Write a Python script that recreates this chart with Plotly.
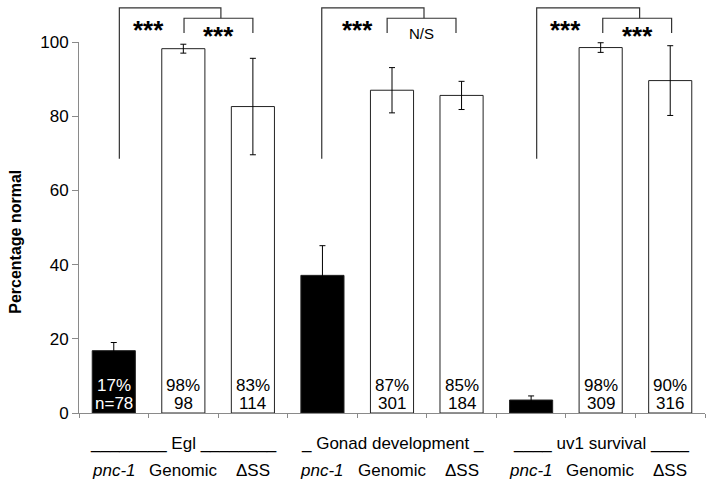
import plotly.graph_objects as go

# Data
strains = ["pnc-1", "Genomic", "ΔSS"] * 3
groups = ["________ Egl ________", "_ Gonad development _", "____ uv1 survival ____"]
values = [16.8, 98.2, 82.6, 37.1, 87.0, 85.6, 3.5, 98.5, 89.6]
errors = [2.2, 1.2, 13.0, 8.0, 6.1, 3.8, 1.1, 1.3, 9.4]
pct_labels = ["17%", "98%", "83%", "", "87%", "85%", "4%", "98%", "90%"]
n_labels = ["n=78", "98", "114", "", "301", "184", "217", "309", "316"]
bar_colors = ["black", "white", "white"] * 3
text_colors = ["white", "black", "black"] * 3

# significance brackets, in category units / y units
big_brackets = [(0.08, 1.54), (2.99, 4.46), (6.08, 7.56)]
small_brackets = [(1.01, 2.0), (3.93, 4.92), (7.03, 8.02)]
big_labels = ["***", "***", "***"]
small_labels = ["***", "N/S", "***"]
big_top, big_bottom = 109.2, 68.5
small_top, small_bottom = 106.4, 102.4

n = len(values)
xs = list(range(n))
font = "Arial, Liberation Sans, sans-serif"
axis_grey = "#8a8a8a"

fig = go.Figure()
fig.add_trace(go.Bar(
    x=xs, y=values, width=0.62,
    marker=dict(color=bar_colors, line=dict(color="#222222", width=1)),
    error_y=dict(type="data", array=errors, visible=True,
                 color="black", thickness=1, width=3),
    showlegend=False, hoverinfo="skip"
))

def px(c):
    # category position -> paper x
    return (c + 0.5) / n

shapes = []
for (a, b), (c, d) in zip(big_brackets, small_brackets):
    shapes.append(dict(type="path", xref="paper", yref="paper",
                       path=f"M {px(a)} {big_bottom/100} L {px(a)} {big_top/100} "
                            f"L {px(b)} {big_top/100} L {px(b)} {small_top/100}",
                       line=dict(color="#333333", width=1.2)))
    shapes.append(dict(type="path", xref="paper", yref="paper",
                       path=f"M {px(c)} {small_bottom/100} L {px(c)} {small_top/100} "
                            f"L {px(d)} {small_top/100} L {px(d)} {small_bottom/100}",
                       line=dict(color="#333333", width=1.2)))

annotations = []
for i, (c, d) in enumerate(small_brackets):
    annotations.append(dict(x=px(3 * i + 0.5), y=1.032, xref="paper", yref="paper",
                            xanchor="center", yanchor="middle",
                            text="<b>" + big_labels[i] + "</b>", showarrow=False,
                            font=dict(family=font, size=26, color="black")))
    sl = small_labels[i]
    if sl == "N/S":
        annotations.append(dict(x=px((c + d) / 2), y=1.024, xref="paper", yref="paper",
                                xanchor="center", yanchor="middle",
                                text=sl, showarrow=False,
                                font=dict(family=font, size=15, color="black")))
    else:
        annotations.append(dict(x=px((c + d) / 2), y=1.016, xref="paper", yref="paper",
                                xanchor="center", yanchor="middle",
                                text="<b>" + sl + "</b>", showarrow=False,
                                font=dict(family=font, size=26, color="black")))

for i in xs:
    lift = 18 if values[i] < 10 else 0
    if pct_labels[i]:
        annotations.append(dict(x=i, y=0, xref="x", yref="y", yanchor="middle",
                                text=pct_labels[i], showarrow=False, yshift=28 + lift,
                                font=dict(family=font, size=17, color=text_colors[i])))
        annotations.append(dict(x=i, y=0, xref="x", yref="y", yanchor="middle",
                                text=n_labels[i], showarrow=False, yshift=10 + lift,
                                font=dict(family=font, size=17, color=text_colors[i])))
    annotations.append(dict(x=i, y=-0.154, xref="x", yref="paper", yanchor="middle",
                            text=("<i>" + strains[i] + "</i>") if strains[i] == "pnc-1" else strains[i],
                            showarrow=False, font=dict(family=font, size=17, color="black")))

for g, label in enumerate(groups):
    annotations.append(dict(x=g * 3 + 1, y=-0.081, xref="x", yref="paper", yanchor="middle",
                            text=label, showarrow=False, font=dict(family=font, size=17, color="black")))

annotations.append(dict(x=-0.102, y=0.462, xref="paper", yref="paper", xanchor="center", yanchor="middle",
                        text="<b>Percentage normal</b>", textangle=-90, showarrow=False,
                        font=dict(family=font, size=16, color="black")))

fig.update_layout(
    width=714, height=488,
    margin=dict(l=79, r=9, t=42, b=75, autoexpand=False),
    plot_bgcolor="white", paper_bgcolor="white",
    bargap=0.38,
    shapes=shapes, annotations=annotations,
    xaxis=dict(range=[-0.5, n - 0.5], tickvals=[k - 0.5 for k in range(n + 1)],
               ticktext=[""] * (n + 1), ticks="outside", ticklen=4, tickcolor=axis_grey,
               showline=True, linecolor=axis_grey, showgrid=False, zeroline=False),
    yaxis=dict(range=[0, 100], tickvals=[0, 20, 40, 60, 80, 100], ticks="outside", ticklen=6,
               tickcolor=axis_grey, showline=True, linecolor=axis_grey, showgrid=False,
               zeroline=False, tickfont=dict(family=font, size=17, color="black")),
)

fig.write_html("out.html", config={"displayModeBar": False},
               post_script="document.body.style.margin = '0';")
